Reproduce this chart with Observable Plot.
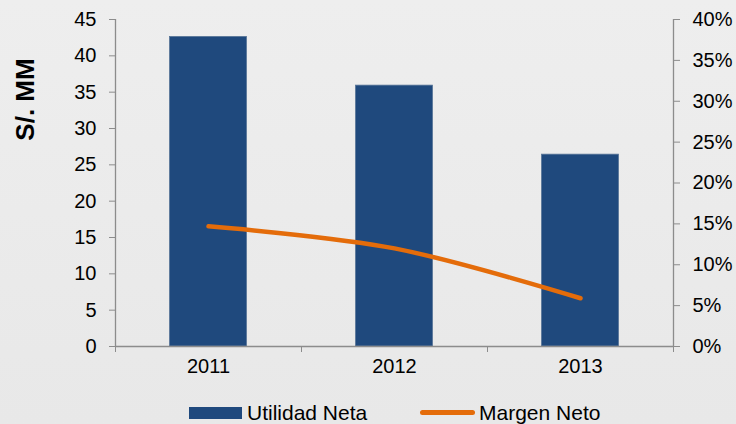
<!DOCTYPE html>
<html><head><meta charset="utf-8">
<script src="https://cdn.jsdelivr.net/npm/d3@7"></script>
<script src="https://cdn.jsdelivr.net/npm/@observablehq/plot@0.6"></script>
<style>
body{margin:0;}
#wrap{position:relative;width:736px;height:424px;background:linear-gradient(#eeeeee,#e8e8e8);font-family:"Liberation Sans",Arial,sans-serif;overflow:hidden;}
#chart svg{display:block;}
.lg{position:absolute;font-size:21px;color:#000;line-height:21px;white-space:nowrap;}
</style></head>
<body>
<div id="wrap"><div id="chart"></div>
<div class="lg" style="left:189px;top:407px;width:53px;height:12px;background:#1f497d;"></div>
<div class="lg" style="left:247px;top:402px;">Utilidad Neta</div>
<div class="lg" style="left:420px;top:409.5px;width:55px;height:5px;border-radius:3px;background:#e46c0a;"></div>
<div class="lg" style="left:479px;top:402px;">Margen Neto</div>
</div>
<script>
const years = [2011, 2012, 2013];
const utilidadNeta = [42.6, 35.9, 26.4];
const margenNeto = [0.147, 0.120, 0.059];
const leftTicks = [0, 5, 10, 15, 20, 25, 30, 35, 40, 45];
const rightTicks = [0, 0.05, 0.10, 0.15, 0.20, 0.25, 0.30, 0.35, 0.40];
const yLabel = "S/. MM";

const yMax = 45, pMax = 0.40, k = yMax / pMax;
const data = years.map((y, i) => ({year: y, utilidad: utilidadNeta[i], margen: margenNeto[i]}));
const half = 0.207;
const xDomain = [years[0] - 0.5, years[years.length - 1] + 0.5];
const boundaries = d3.range(xDomain[0], xDomain[1] + 0.01, 1);
const axisColor = "#8c8c8c";

const chart = Plot.plot({
  width: 736, height: 396,
  marginTop: 19, marginBottom: 50, marginLeft: 115, marginRight: 63,
  style: {background: "transparent", fontFamily: "'Liberation Sans', Arial, sans-serif", fontSize: "20px", color: "#000", overflow: "visible"},
  x: {domain: xDomain, axis: null},
  y: {domain: [0, yMax], axis: null},
  marks: [
    Plot.rectY(data, {x1: d => d.year - half, x2: d => d.year + half, y: "utilidad", fill: "#1f497d", stroke: "#587598", strokeWidth: 0.8}),
    Plot.line(data, {x: "year", y: d => d.margen * k, stroke: "#e46c0a", strokeWidth: 4.5, curve: "catmull-rom", strokeLinecap: "round", strokeLinejoin: "round"}),
    Plot.ruleY([0], {stroke: axisColor, strokeWidth: 1.3}),
    Plot.ruleX([xDomain[0], xDomain[1]], {y1: 0, y2: yMax, stroke: axisColor, strokeWidth: 1.3}),
    Plot.axisY({anchor: "left", ticks: leftTicks, tickSize: 6, tickPadding: 13, label: null, stroke: axisColor, fill: "#000", fontSize: 20}),
    Plot.axisY({anchor: "right", ticks: rightTicks.map(p => p * k), tickFormat: v => Math.round(v / k * 100) + "%", tickSize: 6, tickPadding: 13, label: null, stroke: axisColor, fill: "#000", fontSize: 20}),
    Plot.axisX({ticks: years, tickSize: 0, tickPadding: 12, tickFormat: d => String(d), label: null, fill: "#000", fontSize: 20}),
    Plot.axisX({ticks: boundaries, tickSize: 6, tickFormat: () => "", label: null, stroke: axisColor}),
    Plot.text([yLabel], {frameAnchor: "top-left", dx: -90, dy: 80, rotate: -90, text: d => d, fontSize: 26, fontWeight: "bold", fill: "#000", textAnchor: "middle", lineAnchor: "middle"})
  ]
});
document.getElementById("chart").appendChild(chart);
</script>
</body></html>
